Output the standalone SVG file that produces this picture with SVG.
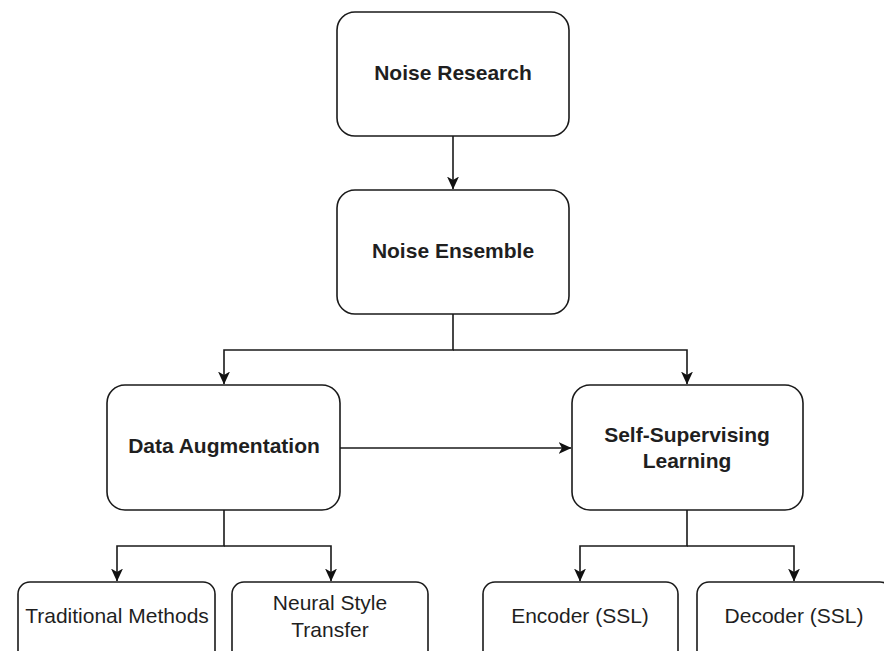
<svg xmlns="http://www.w3.org/2000/svg" width="884" height="651" viewBox="0 0 884 651">
<defs>
<marker id="arr" markerUnits="userSpaceOnUse" markerWidth="14" markerHeight="14" viewBox="0 0 14 14" refX="12.5" refY="7" orient="auto">
<path d="M0,1 L13,7 L0,13 L3.5,7 Z" fill="#111"/>
</marker>
<style>
.box{fill:#fff;stroke:#1a1a1a;stroke-width:1.6}
.edge{fill:none;stroke:#1a1a1a;stroke-width:1.6}
.b{font-family:"Liberation Sans",Arial,sans-serif;font-size:21px;font-weight:bold;fill:#1f1f1f;text-anchor:middle}
.r{font-family:"Liberation Sans",Arial,sans-serif;font-size:21px;fill:#1f1f1f;text-anchor:middle}
</style>
</defs>
<rect width="884" height="651" fill="#fff"/>
<g id="edges">
<path class="edge" d="M453,136 L453,189" marker-end="url(#arr)"/>
<path class="edge" d="M453,314 L453,350 L224,350 L224,384" marker-end="url(#arr)"/>
<path class="edge" d="M453,350 L687,350 L687,384" marker-end="url(#arr)"/>
<path class="edge" d="M340,448 L571,448" marker-end="url(#arr)"/>
<path class="edge" d="M224,510 L224,546 L117,546 L117,581" marker-end="url(#arr)"/>
<path class="edge" d="M224,546 L331,546 L331,581" marker-end="url(#arr)"/>
<path class="edge" d="M687,510 L687,546 L580,546 L580,581" marker-end="url(#arr)"/>
<path class="edge" d="M687,546 L794,546 L794,581" marker-end="url(#arr)"/>
</g>
<g id="noise-research">
<rect class="box" x="337" y="12" width="232" height="124" rx="18"/>
<text class="b" x="453" y="80">Noise Research</text>
</g>
<g id="noise-ensemble">
<rect class="box" x="337" y="190" width="232" height="124" rx="18"/>
<text class="b" x="453" y="258">Noise Ensemble</text>
</g>
<g id="data-augmentation">
<rect class="box" x="107" y="385" width="233" height="125" rx="18"/>
<text class="b" x="224" y="453">Data Augmentation</text>
</g>
<g id="self-supervising">
<rect class="box" x="572" y="385" width="231" height="125" rx="18"/>
<text class="b" x="687" y="442">Self-Supervising</text>
<text class="b" x="687" y="468">Learning</text>
</g>
<g id="traditional-methods">
<rect class="box" x="18" y="582" width="197" height="90" rx="12"/>
<text class="r" x="117" y="623">Traditional Methods</text>
</g>
<g id="neural-style-transfer">
<rect class="box" x="232" y="582" width="196" height="90" rx="12"/>
<text class="r" x="330" y="610">Neural Style</text>
<text class="r" x="330" y="637">Transfer</text>
</g>
<g id="encoder">
<rect class="box" x="483" y="582" width="195" height="90" rx="12"/>
<text class="r" x="580" y="623">Encoder (SSL)</text>
</g>
<g id="decoder">
<rect class="box" x="697" y="582" width="195" height="90" rx="12"/>
<text class="r" x="794" y="623">Decoder (SSL)</text>
</g>
</svg>
